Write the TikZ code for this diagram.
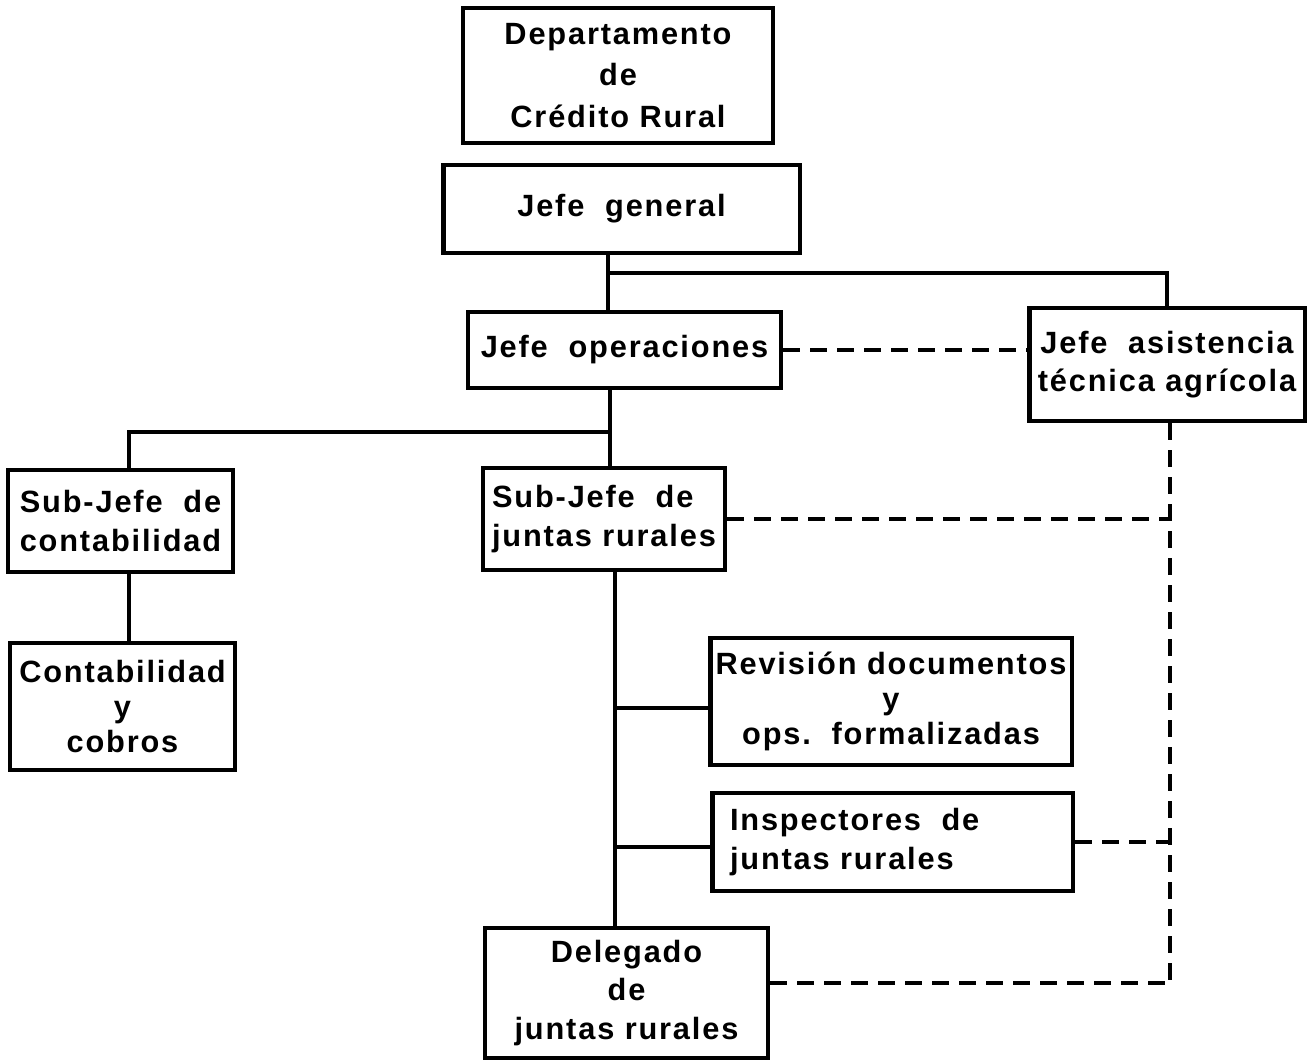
\documentclass[tikz,border=0pt]{standalone}
\usepackage{fontspec}
\setmainfont{Liberation Sans}
\newfontfamily\orgfont{Liberation Sans}[LetterSpace=6]
\usepackage{tikz}

\tikzset{
  unit/.style={draw, line width=2.8pt, inner sep=2pt, align=center,
    font=\orgfont\bfseries\fontsize{17.5}{22}\selectfont},
  tight/.style={font=\orgfont\bfseries\fontsize{17.5}{20}\selectfont},
  loose/.style={font=\orgfont\bfseries\fontsize{17.5}{23.5}\selectfont},
  link/.style={line width=2.5pt},
  staff/.style={line width=2.5pt, dash pattern=on 0.34cm off 0.2cm},
}

\begin{document}
\begin{tikzpicture}[x=0.02cm, y=-0.02cm]
    \useasboundingbox (0,0) rectangle (1315,1060);

    % Top of the department
    \node[unit, loose, minimum width=6.2cm, minimum height=2.7cm] (dept) at (618,75.5)
        {Departamento\\de\\Crédito Rural};
    \node[unit, minimum width=7.14cm, minimum height=1.76cm] (jefegen) at (621.5,209)
        {Jefe~~general};
    \node[unit, minimum width=6.26cm, minimum height=1.52cm] (jefeop) at (624.5,350)
        {Jefe~~operaciones};
    \node[unit, minimum width=5.52cm, minimum height=2.26cm] (asist) at (1167,364.5)
        {Jefe~~asistencia\\técnica agrícola};

    % Sub-chiefs
    \node[unit, minimum width=4.5cm, minimum height=2.04cm] (subcont) at (120.5,521)
        {Sub-Jefe~~de\\contabilidad};
    \node[unit, align=left, minimum width=4.84cm, minimum height=2.04cm] (subjuntas) at (604,519)
        {Sub-Jefe~~de\\juntas rurales};

    % Lower units
    \node[unit, tight, minimum width=4.5cm, minimum height=2.54cm] (contab) at (122.5,706.5)
        {Contabilidad\\y\\cobros};
    \node[unit, tight, minimum width=7.24cm, minimum height=2.54cm] (revision) at (891,701.5)
        {Revisión documentos\\y\\ops.~~formalizadas};
    \node[unit, align=left, text width=6.5cm, inner xsep=0.36cm, minimum height=1.96cm] (inspect) at (892.5,842)
        {Inspectores~~de\\juntas rurales};
    \node[unit, minimum width=5.66cm, minimum height=2.6cm] (delegado) at (626.5,993)
        {Delegado\\de\\juntas rurales};

    % Line of command
    \coordinate (trunk) at (608,273);
    \draw[link] (jefegen.south -| trunk) -- (jefeop.north -| trunk);
    \draw[link] (trunk) -| (asist.north);

    \coordinate (split) at (610,432);
    \coordinate (leftcol) at (129,432);
    \draw[link] (jefeop.south -| split) -- (subjuntas.north -| split);
    \draw[link] (split) -- (leftcol) -- (subcont.north -| leftcol);
    \draw[link] (subcont.south -| leftcol) -- (contab.north -| leftcol);

    \coordinate (b1) at (615,708);
    \coordinate (b2) at (615,847);
    \draw[link] (subjuntas.south -| b1) -- (delegado.north -| b1);
    \draw[link] (b1) -- (revision.west |- b1);
    \draw[link] (b2) -- (inspect.west |- b2);

    % Technical assistance (dashed)
    \coordinate (staffcol) at (1170,983);
    \draw[staff] (jefeop.east) -- (jefeop.east -| asist.west);
    \draw[staff] (asist.south -| staffcol) -- (staffcol);
    \draw[staff] (subjuntas.east) -- (subjuntas.east -| staffcol);
    \draw[staff] (inspect.east) -- (inspect.east -| staffcol);
    \draw[staff] (delegado.east |- staffcol) -- (staffcol);
\end{tikzpicture}
\end{document}
